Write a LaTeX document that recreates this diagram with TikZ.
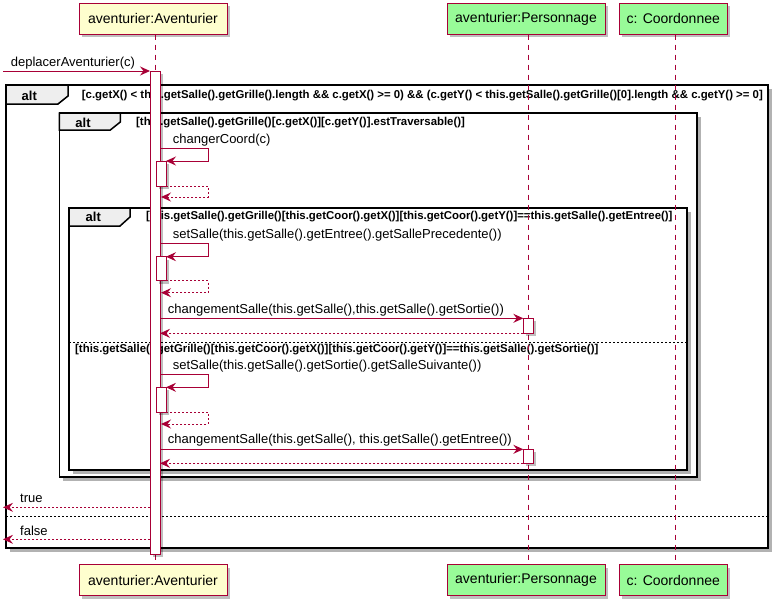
\documentclass[tikz,border=0pt]{standalone}
\usepackage{fontspec}
\setmainfont{Liberation Sans}
\usetikzlibrary{arrows.meta,shadows}
\definecolor{seqred}{HTML}{A80036}
\definecolor{seqyellow}{HTML}{FEFECE}
\definecolor{seqgreen}{HTML}{98FB98}
\definecolor{seqtab}{HTML}{EEEEEE}
\tikzset{
  seqshadow/.style={drop shadow={shadow xshift=3pt,shadow yshift=-3pt,fill=black,opacity=.25}},
  participant/.style={draw=seqred,line width=1pt,seqshadow,minimum height=31pt,inner sep=0pt,font=\fontsize{14}{16}\selectfont},
  lifeline/.style={draw=seqred,line width=.8pt,dash pattern=on 5pt off 5pt},
  actbar/.style={draw=seqred,fill=white,line width=1pt,minimum width=10pt,inner sep=0pt,outer sep=0pt,seqshadow},
  msg/.style={draw=seqred,line width=1pt,-{Stealth[length=10pt,width=9pt,inset=3.5pt]}},
  ret/.style={msg,dash pattern=on 2pt off 2pt},
  msgtext/.style={anchor=west,inner sep=0pt,font=\fontsize{13}{15}\selectfont},
  altframe/.style={draw=black,fill=white,line width=1.5pt,inner sep=0pt,outer sep=0pt,anchor=north west,drop shadow={shadow xshift=4pt,shadow yshift=-4pt,fill=black,opacity=.3}},
  alttab/.style={draw=black,fill=seqtab,line width=1.5pt},
  alttext/.style={inner sep=0pt,font=\bfseries\fontsize{13}{15}\selectfont},
  guard/.style={anchor=west,inner sep=0pt,font=\bfseries\fontsize{11.4}{13}\selectfont},
  elseline/.style={draw=black,line width=.7pt,dash pattern=on 2pt off 2pt}
}
\begin{document}
\begin{tikzpicture}[x=1pt,y=-1pt]
\useasboundingbox[fill=white] (0,0) rectangle (778,605);
% Rahmen alt (aussen):
\node[altframe,minimum width=762,minimum height=463] (altOuter) at (6,85) {};
\draw[alttab] (altOuter.north west) -- ++(62,0) -- ++(0,11) -- ++(-10,8) -- ++(-52,0) -- cycle;
\node[alttext] (altOuterTag) at ([shift={(23.3,11)}]altOuter.north west) {alt};
\node[guard] (altOuterGuard) at ([shift={(75.7,11)}]altOuter.north west) {[c.getX() < this.getSalle().getGrille().length \&\& c.getX() >= 0) \&\& (c.getY() < this.getSalle().getGrille()[0].length \&\& c.getY() >= 0]};
\draw[elseline] ([shift={(0,431)}]altOuter.north west) -- ([shift={(0,431)}]altOuter.north east);
% Rahmen alt (traversable):
\node[altframe,minimum width=637.7,minimum height=364] (altTraversable) at (59.3,113) {};
\draw[alttab] (altTraversable.north west) -- ++(61,0) -- ++(0,9) -- ++(-10,8) -- ++(-51,0) -- cycle;
\node[alttext] (altTraversableTag) at ([shift={(23.7,9.5)}]altTraversable.north west) {alt};
\node[guard] (altTraversableGuard) at ([shift={(76.7,9.5)}]altTraversable.north west) {[this.getSalle().getGrille()[c.getX()][c.getY()].estTraversable()]};
% Rahmen alt (Entree / Sortie):
\node[altframe,minimum width=618,minimum height=262] (altEntree) at (69,208) {};
\draw[alttab] (altEntree.north west) -- ++(61,0) -- ++(0,9) -- ++(-10,9) -- ++(-51,0) -- cycle;
\node[alttext] (altEntreeTag) at ([shift={(24.3,9)}]altEntree.north west) {alt};
\node[guard] (altEntreeGuard) at ([shift={(77,9)}]altEntree.north west) {[this.getSalle().getGrille()[this.getCoor().getX()][this.getCoor().getY()]==this.getSalle().getEntree()]};
\draw[elseline] ([shift={(0,134.3)}]altEntree.north west) -- ([shift={(0,134.3)}]altEntree.north east);
\node[guard] (altSortieGuard) at ([shift={(6,141.5)}]altEntree.north west) {[this.getSalle().getGrille()[this.getCoor().getX()][this.getCoor().getY()]==this.getSalle().getSortie()]};
% Teilnehmer:
\node[participant,fill=seqyellow,minimum width=148] (avTop) at (153,18.5) {aventurier:Aventurier};
\node[participant,fill=seqgreen,minimum width=158] (persTop) at (526,18.5) {aventurier:Personnage};
\node[participant,fill=seqgreen,minimum width=108] (coordTop) at (673.3,18.5) {c: Coordonnee};
\node[participant,fill=seqyellow,minimum width=148] (avBot) at (153,580) {aventurier:Aventurier};
\node[participant,fill=seqgreen,minimum width=158] (persBot) at (526,580) {aventurier:Personnage};
\node[participant,fill=seqgreen,minimum width=108] (coordBot) at (673.3,580) {c: Coordonnee};
\draw[lifeline] ([xshift=2pt]avTop.south) -- ([xshift=2pt]avBot.north);
\draw[lifeline] ([xshift=2pt]persTop.south) -- ([xshift=2pt]persBot.north);
\draw[lifeline] ([xshift=2pt]coordTop.south) -- ([xshift=2pt]coordBot.north);
% Aufruf:
\node[actbar,anchor=north,minimum height=483] (actAventurier) at (155,71) {};
\coordinate (caller) at (3,71);
\draw[msg] (caller) -- (actAventurier.north west);
\node[msgtext] (lblDeplacer) at (10.7,63) {deplacerAventurier(c)};
% changerCoord:
\node[actbar,anchor=north,minimum height=25] (actChanger) at (161,161) {};
\draw[msg] (actAventurier.east |- actChanger.north) ++(0,-13) -- ++(48,0) -- ++(0,13) -- (actChanger.north east);
\draw[ret] (actChanger.south east) -- ++(42,0) -- ++(0,11) -- ++(-47,0);
\node[msgtext] (lblChanger) at (172.7,139.7) {changerCoord(c)};
% setSalle Precedente:
\node[actbar,anchor=north,minimum height=24] (actPrecedente) at (161,256.7) {};
\draw[msg] (actAventurier.east |- actPrecedente.north) ++(0,-13) -- ++(48,0) -- ++(0,13) -- (actPrecedente.north east);
\draw[ret] (actPrecedente.south east) -- ++(42,0) -- ++(0,12) -- ++(-47,0);
\node[msgtext] (lblPrecedente) at (172.7,235) {setSalle(this.getSalle().getEntree().getSallePrecedente())};
% changementSalle Sortie:
\node[actbar,anchor=north,minimum height=15] (actPersSortie) at (528.3,318.3) {};
\draw[msg] (actAventurier.east |- actPersSortie.north) -- (actPersSortie.north west);
\draw[ret] (actPersSortie.south west) -- (actAventurier.east |- actPersSortie.south);
\node[msgtext] (lblSortie) at (167.7,309.7) {changementSalle(this.getSalle(),this.getSalle().getSortie())};
% setSalle Suivante:
\node[actbar,anchor=north,minimum height=24.7] (actSuivante) at (161,387.3) {};
\draw[msg] (actAventurier.east |- actSuivante.north) ++(0,-13) -- ++(48,0) -- ++(0,13) -- (actSuivante.north east);
\draw[ret] (actSuivante.south east) -- ++(42,0) -- ++(0,12) -- ++(-47,0);
\node[msgtext] (lblSuivante) at (172.7,365.8) {setSalle(this.getSalle().getSortie().getSalleSuivante())};
% changementSalle Entree:
\node[actbar,anchor=north,minimum height=14] (actPersEntree) at (528.3,449.3) {};
\draw[msg] (actAventurier.east |- actPersEntree.north) -- (actPersEntree.north west);
\draw[ret] (actPersEntree.south west) -- (actAventurier.east |- actPersEntree.south);
\node[msgtext] (lblEntree) at (167.7,440.5) {changementSalle(this.getSalle(), this.getSalle().getEntree())};
% Rueckgabe:
\coordinate (retTrue) at (3,507.3);
\coordinate (retFalse) at (3,539.3);
\draw[ret] (actAventurier.west |- retTrue) -- (retTrue);
\draw[ret] (actAventurier.west |- retFalse) -- (retFalse);
\node[msgtext] (lblTrue) at (20,498.7) {true};
\node[msgtext] (lblFalse) at (20,531) {false};
\end{tikzpicture}
\end{document}
